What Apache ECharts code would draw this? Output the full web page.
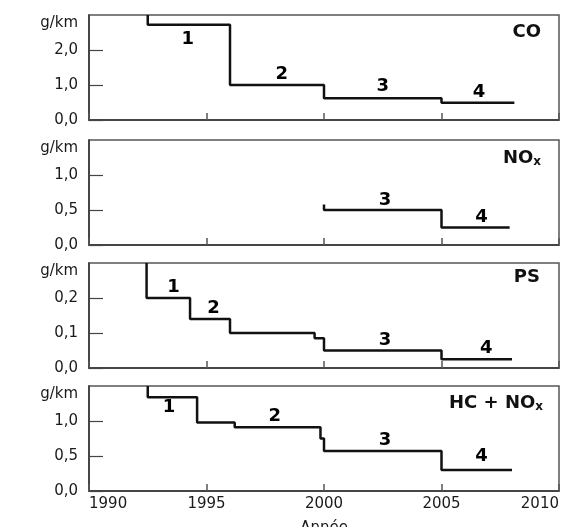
<!DOCTYPE html>
<html>
<head>
<meta charset="utf-8">
<script src="https://cdn.jsdelivr.net/npm/echarts@6/dist/echarts.min.js"></script>
<style>
html,body{margin:0;padding:0;background:#fff;}
#chart{width:565px;height:527px;}
</style>
</head>
<body>
<div id="chart"></div>
<script>
// ---- Data ----
const xTicks = [1990, 1995, 2000, 2005, 2010];

// CO (g/km) – step vertices, each value holds until the next year
const coYears  = [1992.5, 1992.5, 1996, 2000, 2005, 2008.1];
const coValues = [3.0, 2.72, 1.0, 0.62, 0.49, 0.49];
const coStageYears  = [1994.2, 1998.2, 2002.5, 2006.6];
const coStageValues = [2.3, 1.3, 0.95, 0.78];
const coStageNames  = ['1', '2', '3', '4'];

// NOx
const noxYears  = [2000, 2000, 2005, 2007.9];
const noxValues = [0.58, 0.5, 0.25, 0.25];
const noxStageYears  = [2002.6, 2006.7];
const noxStageValues = [0.64, 0.39];
const noxStageNames  = ['3', '4'];

// PS (particles)
const psYears  = [1992.45, 1992.45, 1994.3, 1996, 1999.6, 2000, 2005, 2008];
const psValues = [0.3, 0.2, 0.14, 0.1, 0.085, 0.05, 0.025, 0.025];
const psStageYears  = [1993.6, 1995.3, 2002.6, 2006.9];
const psStageValues = [0.23, 0.17, 0.08, 0.057];
const psStageNames  = ['1', '2', '3', '4'];

// HC + NOx
const hcYears  = [1992.5, 1992.5, 1994.6, 1996.2, 1999.85, 2000, 2005, 2008];
const hcValues = [1.5, 1.34, 0.98, 0.91, 0.75, 0.57, 0.3, 0.3];
const hcStageYears  = [1993.4, 1997.9, 2002.6, 2006.7];
const hcStageValues = [1.19, 1.06, 0.73, 0.49];
const hcStageNames  = ['1', '2', '3', '4'];

const yMax = [3, 1.5, 0.3, 1.5];
const yInterval = [1, 0.5, 0.1, 0.5];
const yUnit = 'g/km';
const xName = 'Année';

// ---- Build option ----
const FONT = 'DejaVu Sans';
const panels = [
  {years: coYears, values: coValues, sx: coStageYears, sy: coStageValues, sn: coStageNames},
  {years: noxYears, values: noxValues, sx: noxStageYears, sy: noxStageValues, sn: noxStageNames},
  {years: psYears, values: psValues, sx: psStageYears, sy: psStageValues, sn: psStageNames},
  {years: hcYears, values: hcValues, sx: hcStageYears, sy: hcStageValues, sn: hcStageNames}
];
const gridTops = [15, 140, 263, 386];
const zip = (a, b) => a.map((v, i) => [v, b[i]]);

const grids = [], xAxes = [], yAxes = [], series = [];
panels.forEach((p, i) => {
  grids.push({left: 89, right: 6, top: gridTops[i], height: 105,
    outerBoundsMode: 'none', containLabel: false,
    show: true, borderColor: '#555', borderWidth: 1.5, backgroundColor: 'transparent'});
  const last = i === panels.length - 1;
  xAxes.push({
    type: 'value', gridIndex: i, min: xTicks[0], max: xTicks[xTicks.length - 1], interval: 5,
    splitLine: {show: false},
    axisLine: {show: true, lineStyle: {color: '#333', width: 1.5}},
    axisTick: {show: true, inside: true, length: 7, lineStyle: {color: '#555', width: 1.5}},
    axisLabel: {show: last, fontFamily: FONT, fontSize: 15, color: '#1a1a1a', margin: 6,
      alignMinLabel: 'left', alignMaxLabel: 'right', formatter: v => String(v)},
    name: last ? xName : '', nameLocation: 'middle', nameGap: 30,
    nameTextStyle: {fontFamily: FONT, fontSize: 15, color: '#1a1a1a'}
  });
  yAxes.push({
    type: 'value', gridIndex: i, min: 0, max: yMax[i], interval: yInterval[i],
    splitLine: {show: false},
    axisLine: {show: true, lineStyle: {color: '#333', width: 1.5}},
    axisTick: {show: true, inside: true, length: 14, lineStyle: {color: '#444', width: 1.2}},
    axisLabel: {fontFamily: FONT, fontSize: 15, color: '#1a1a1a', margin: 11, showMaxLabel: false,
      formatter: v => v.toFixed(1).replace('.', ',')},
    name: yUnit, nameLocation: 'end', nameGap: -8,
    nameTextStyle: {fontFamily: FONT, fontSize: 15, color: '#1a1a1a', align: 'right',
      verticalAlign: 'middle', padding: [0, 11, 0, 0]}
  });
  series.push({
    type: 'line', xAxisIndex: i, yAxisIndex: i, step: 'end', symbol: 'none',
    data: zip(p.years, p.values),
    lineStyle: {color: '#111', width: 2.5}, clip: true
  });
  series.push({
    type: 'scatter', xAxisIndex: i, yAxisIndex: i, symbolSize: 1,
    itemStyle: {color: '#ffffff', opacity: 1},
    data: p.sx.map((x, k) => ({value: [x, p.sy[k]], name: p.sn[k]})),
    label: {show: true, position: 'inside', formatter: d => d.name,
      fontFamily: FONT, fontWeight: 'bold', fontSize: 18, color: '#000',
      textBorderWidth: 0, opacity: 1}
  });
});

const titleRich = {
  sub: {fontFamily: FONT, fontWeight: 'bold', fontSize: 12, color: '#111', padding: [8, 0, 0, 0]}
};
const titleStyle = {fontFamily: FONT, fontWeight: 'bold', fontSize: 18, color: '#111', rich: titleRich};
const titles = [
  {text: 'CO', right: 24, top: 23},
  {text: 'NO{sub|x}', right: 24, top: 148},
  {text: 'PS', right: 25, top: 268},
  {text: 'HC + NO{sub|x}', right: 22, top: 393}
].map(t => Object.assign({padding: 0, textStyle: titleStyle}, t));

const chart = echarts.init(document.getElementById('chart'), null, {renderer: 'canvas'});
chart.setOption({
  animation: false,
  backgroundColor: '#fff',
  title: titles,
  grid: grids,
  xAxis: xAxes,
  yAxis: yAxes,
  series: series
});
</script>
</body>
</html>
